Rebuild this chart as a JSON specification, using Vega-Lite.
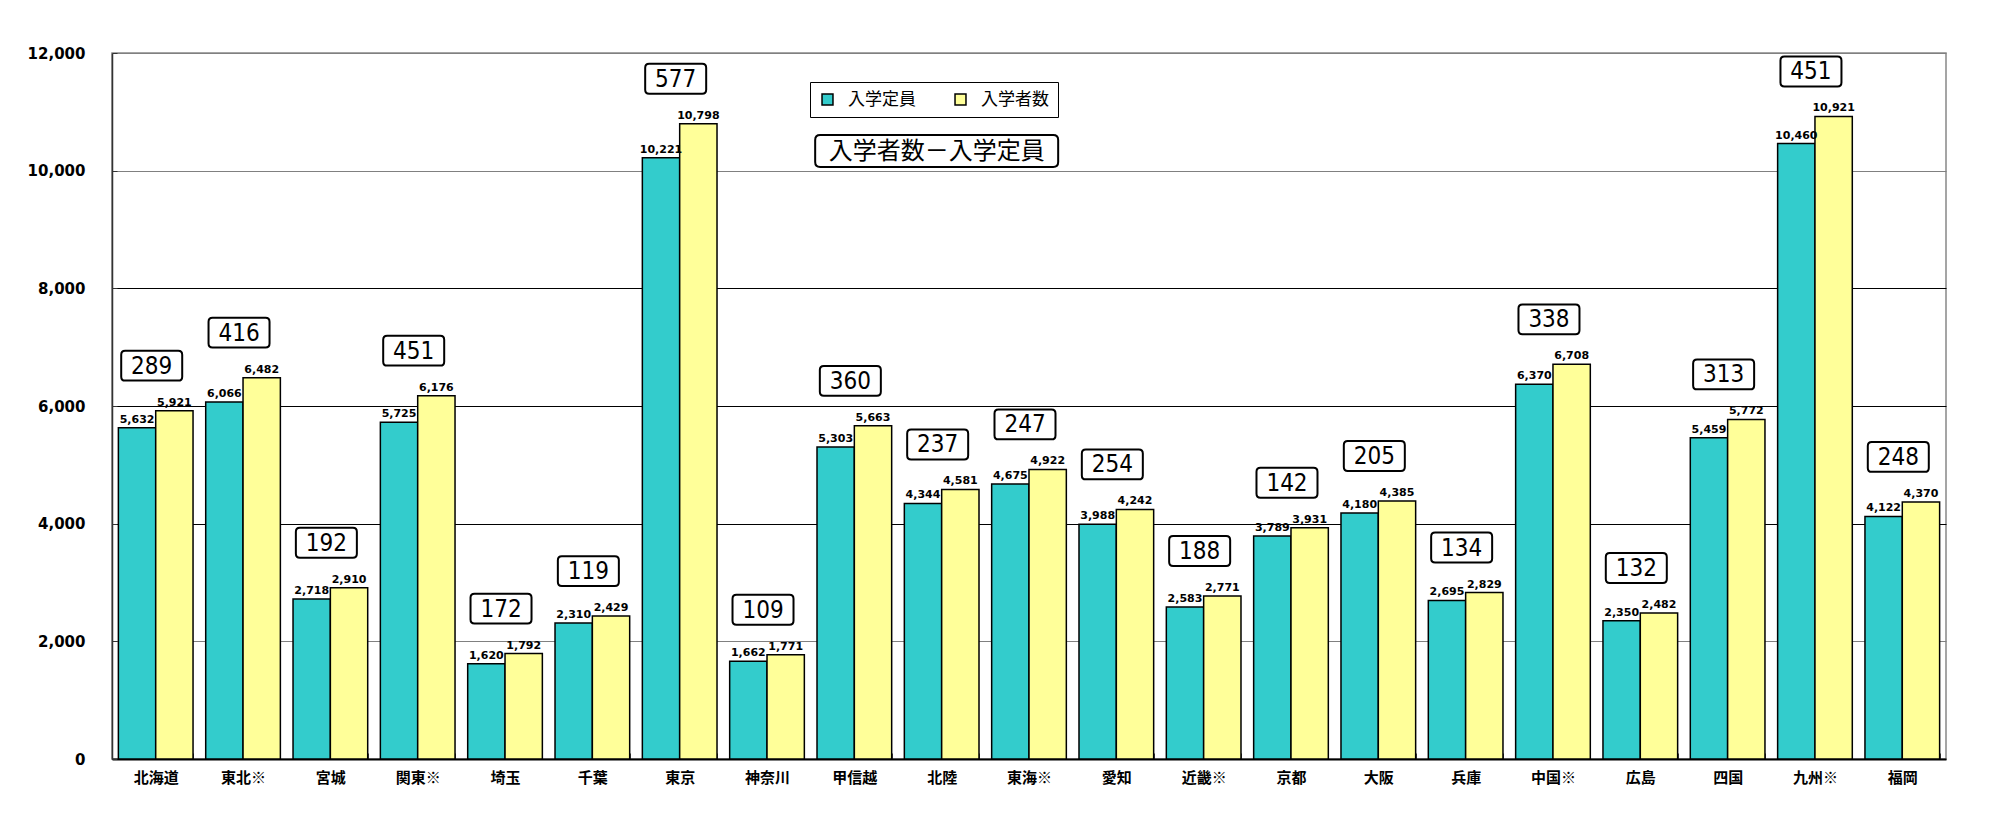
{
  "$schema": "https://vega.github.io/schema/vega-lite/v6.json",
  "width": 1834,
  "height": 706,
  "autosize": {"type": "none"},
  "padding": {"left": 112, "top": 53, "right": 45, "bottom": 63},
  "background": "white",
  "config": {"view": {"stroke": "#888888", "strokeWidth": 1.5}, "font": "DejaVu Sans"},
  "data": {
    "values": [
      {"地域": "北海道", "入学定員": 5632, "入学者数": 5921, "差": 289},
      {"地域": "東北※", "入学定員": 6066, "入学者数": 6482, "差": 416},
      {"地域": "宮城", "入学定員": 2718, "入学者数": 2910, "差": 192},
      {"地域": "関東※", "入学定員": 5725, "入学者数": 6176, "差": 451},
      {"地域": "埼玉", "入学定員": 1620, "入学者数": 1792, "差": 172},
      {"地域": "千葉", "入学定員": 2310, "入学者数": 2429, "差": 119},
      {"地域": "東京", "入学定員": 10221, "入学者数": 10798, "差": 577},
      {"地域": "神奈川", "入学定員": 1662, "入学者数": 1771, "差": 109},
      {"地域": "甲信越", "入学定員": 5303, "入学者数": 5663, "差": 360},
      {"地域": "北陸", "入学定員": 4344, "入学者数": 4581, "差": 237},
      {"地域": "東海※", "入学定員": 4675, "入学者数": 4922, "差": 247},
      {"地域": "愛知", "入学定員": 3988, "入学者数": 4242, "差": 254},
      {"地域": "近畿※", "入学定員": 2583, "入学者数": 2771, "差": 188},
      {"地域": "京都", "入学定員": 3789, "入学者数": 3931, "差": 142},
      {"地域": "大阪", "入学定員": 4180, "入学者数": 4385, "差": 205},
      {"地域": "兵庫", "入学定員": 2695, "入学者数": 2829, "差": 134},
      {"地域": "中国※", "入学定員": 6370, "入学者数": 6708, "差": 338},
      {"地域": "広島", "入学定員": 2350, "入学者数": 2482, "差": 132},
      {"地域": "四国", "入学定員": 5459, "入学者数": 5772, "差": 313},
      {"地域": "九州※", "入学定員": 10460, "入学者数": 10921, "差": 451},
      {"地域": "福岡", "入学定員": 4122, "入学者数": 4370, "差": 248}
    ]
  },
  "layer": [
    {
      "transform": [{"fold": ["入学定員", "入学者数"], "as": ["系列", "人数"]}],
      "layer": [
        {
          "mark": {"type": "bar", "stroke": "black", "strokeWidth": 1.5},
          "encoding": {
            "x": {
              "field": "地域", "type": "nominal", "sort": null,
              "scale": {
                "domain": ["北海道", "東北※", "宮城", "関東※", "埼玉", "千葉", "東京", "神奈川", "甲信越", "北陸", "東海※", "愛知", "近畿※", "京都", "大阪", "兵庫", "中国※", "広島", "四国", "九州※", "福岡"],
                "paddingInner": 0.145, "paddingOuter": 0.073
              },
              "axis": {
                "title": null, "labelAngle": 0, "labelFont": "Noto Sans CJK JP", "labelFontSize": 15,
                "labelFontWeight": "bold", "labelColor": "black", "domainColor": "black", "domainWidth": 2,
                "tickSize": -6, "tickBand": "extent", "tickColor": "#444444", "labelPadding": 17, "grid": false
              }
            },
            "xOffset": {"field": "系列", "type": "nominal", "sort": ["入学定員", "入学者数"], "scale": {"paddingInner": 0, "paddingOuter": 0}},
            "y": {
              "field": "人数", "type": "quantitative",
              "scale": {"domain": [0, 12000], "nice": false},
              "axis": {
                "title": null, "values": [0, 2000, 4000, 6000, 8000, 10000, 12000],
                "labelExpr": "format(datum.value, ',')",
                "labelFont": "DejaVu Sans", "labelFontWeight": "bold", "labelFontSize": 15, "labelColor": "black",
                "domainColor": "#333333", "domainWidth": 1.5, "tickSize": -5, "tickColor": "#333333",
                "labelPadding": 32,
                "gridColor": {"condition": {"test": "datum.value == 4000 || datum.value == 6000 || datum.value == 8000", "value": "black"}, "value": "#808080"},
                "gridWidth": 1.2
              }
            },
            "color": {
              "field": "系列", "type": "nominal", "sort": ["入学定員", "入学者数"],
              "scale": {"domain": ["入学定員", "入学者数"], "range": ["#33CCCC", "#FFFF99"]},
              "legend": {
                "orient": "none", "legendX": 698, "legendY": 29, "direction": "horizontal", "title": null,
                "strokeColor": "black", "padding": 9, "symbolType": "square", "symbolSize": 120,
                "symbolStrokeColor": "black", "symbolStrokeWidth": 1.5, "symbolOpacity": 1,
                "labelFont": "Noto Sans CJK JP", "labelFontSize": 17, "labelColor": "black", "columnPadding": 36,
                "labelOffset": 12, "fillColor": "white"
              }
            }
          }
        },
        {
          "mark": {"type": "text", "font": "DejaVu Sans", "fontWeight": "bold", "fontSize": 11, "baseline": "bottom", "dy": -3, "color": "black"},
          "encoding": {
            "x": {"field": "地域", "type": "nominal", "sort": null},
            "xOffset": {"field": "系列", "type": "nominal", "sort": ["入学定員", "入学者数"]},
            "y": {"field": "人数", "type": "quantitative"},
            "text": {"field": "人数", "type": "quantitative", "format": ","}
          }
        }
      ]
    },
    {
      "mark": {
        "type": "point",
        "shape": "M-0.87,-0.49 L0.87,-0.49 Q1,-0.49 1,-0.36 L1,0.36 Q1,0.49 0.87,0.49 L-0.87,0.49 Q-1,0.49 -1,0.36 L-1,-0.36 Q-1,-0.49 -0.87,-0.49 Z",
        "size": 3721, "filled": true, "fill": "white", "stroke": "black", "strokeWidth": 2,
        "opacity": 1, "fillOpacity": 1, "yOffset": -45, "xOffset": -4
      },
      "encoding": {
        "x": {"field": "地域", "type": "nominal", "sort": null},
        "y": {"field": "入学者数", "type": "quantitative"}
      }
    },
    {
      "mark": {
        "type": "text", "font": "'Liberation Sans Narrow', 'DejaVu Sans Condensed', 'Liberation Sans', sans-serif", "fontSize": 24, "color": "black",
        "baseline": "middle", "align": "center", "yOffset": -44, "xOffset": -4
      },
      "encoding": {
        "x": {"field": "地域", "type": "nominal", "sort": null},
        "y": {"field": "入学者数", "type": "quantitative"},
        "text": {"field": "差", "type": "quantitative"}
      }
    },
    {
      "data": {"values": [{"注記": "入学者数－入学定員"}]},
      "layer": [
        {
          "mark": {
            "type": "point",
            "shape": "M-0.959,-0.132 L0.959,-0.132 Q1,-0.132 1,-0.091 L1,0.091 Q1,0.132 0.959,0.132 L-0.959,0.132 Q-1,0.132 -1,0.091 L-1,-0.091 Q-1,-0.132 -0.959,-0.132 Z",
            "size": 59049, "filled": true, "fill": "white", "stroke": "black", "strokeWidth": 2,
            "opacity": 1, "fillOpacity": 1, "xOffset": -5
          },
          "encoding": {
            "x": {"datum": "北陸", "type": "nominal"},
            "y": {"datum": 10334, "type": "quantitative"}
          }
        },
        {
          "mark": {"type": "text", "font": "Noto Sans CJK JP", "fontSize": 24, "color": "black", "baseline": "middle", "align": "center", "xOffset": -5, "dy": 1},
          "encoding": {
            "x": {"datum": "北陸", "type": "nominal"},
            "y": {"datum": 10334, "type": "quantitative"},
            "text": {"field": "注記", "type": "nominal"}
          }
        }
      ]
    }
  ]
}
